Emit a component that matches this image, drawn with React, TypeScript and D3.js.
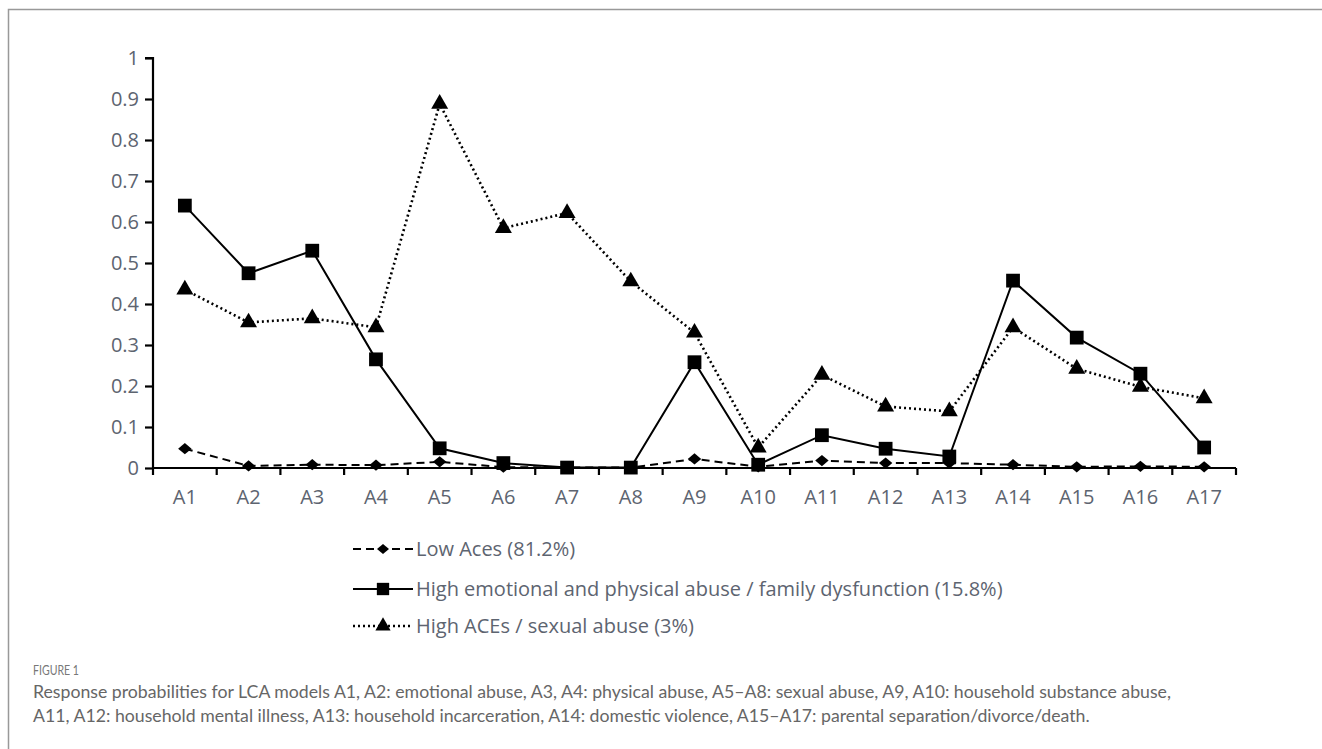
import React, { useEffect, useRef } from 'react';
import * as d3 from 'd3';

// Response probabilities per item
const items = ['A1', 'A2', 'A3', 'A4', 'A5', 'A6', 'A7', 'A8', 'A9', 'A10', 'A11', 'A12', 'A13', 'A14', 'A15', 'A16', 'A17'];
const lowAces = [0.047, 0.005, 0.008, 0.007, 0.015, 0.002, 0.001, 0.001, 0.022, 0.003, 0.018, 0.012, 0.012, 0.008, 0.003, 0.004, 0.003];
const highEmotional = [0.64, 0.475, 0.53, 0.265, 0.048, 0.012, 0.001, 0.001, 0.258, 0.008, 0.08, 0.047, 0.028, 0.457, 0.318, 0.23, 0.05];
const highSexual = [0.435, 0.355, 0.365, 0.343, 0.888, 0.585, 0.622, 0.455, 0.33, 0.05, 0.227, 0.15, 0.138, 0.343, 0.242, 0.198, 0.17];
const yTicks = [0, 0.1, 0.2, 0.3, 0.4, 0.5, 0.6, 0.7, 0.8, 0.9, 1];

const seriesNames = [
  'Low Aces (81.2%)',
  'High emotional and physical abuse / family dysfunction (15.8%)',
  'High ACEs / sexual abuse (3%)',
];

const captionLines = [
  'Response probabilities for LCA models A1, A2: emotional abuse, A3, A4: physical abuse, A5\u2013A8: sexual abuse, A9, A10: household substance abuse,',
  'A11, A12: household mental illness, A13: household incarceration, A14: domestic violence, A15\u2013A17: parental separation/divorce/death.',
];

const W = 1322;
const H = 749;
const labelFont = '"Open Sans", "Liberation Sans", sans-serif';
const labelColor = '#5d6470';

const Chart = () => {
  const ref = useRef<SVGSVGElement>(null);

  useEffect(() => {
    const svg = d3.select(ref.current);
    svg.selectAll('*').remove();

    // outer frame
    svg.append('rect')
      .attr('x', 8.5).attr('y', 9.5)
      .attr('width', W + 20).attr('height', H + 20)
      .attr('fill', 'none').attr('stroke', '#999').attr('stroke-width', 1.5);

    const x = d3.scaleBand().domain(items).range([153, 1236]);
    const y = d3.scaleLinear().domain([0, 1]).range([468, 58]);

    // y axis
    const gy = svg.append('g').attr('transform', 'translate(153,0)')
      .call(d3.axisLeft(y).tickValues(yTicks).tickFormat(d => String(d)).tickSize(8).tickPadding(6));
    gy.select('.domain').attr('d', 'M-8,58H0V468').attr('stroke', '#000').attr('stroke-width', 2.2);
    gy.selectAll('.tick line').attr('stroke', '#000').attr('stroke-width', 2.2);
    gy.selectAll('.tick text')
      .attr('fill', labelColor).style('font-family', labelFont).style('font-size', '20px');

    // x axis with ticks between the categories
    const edges = d3.range(items.length + 1).map(i => 153 + i * x.step());
    const gx = svg.append('g');
    gx.append('line').attr('x1', 153).attr('x2', 1236).attr('y1', 468).attr('y2', 468)
      .attr('stroke', '#000').attr('stroke-width', 2.2);
    gx.selectAll('line.tk').data(edges).enter().append('line').attr('class', 'tk')
      .attr('x1', d => d).attr('x2', d => d).attr('y1', 468).attr('y2', 475)
      .attr('stroke', '#000').attr('stroke-width', 2.2);
    gx.selectAll('text').data(items).enter().append('text')
      .attr('x', d => (x(d) as number) + x.bandwidth() / 2)
      .attr('y', 504)
      .attr('text-anchor', 'middle')
      .attr('fill', labelColor).style('font-family', labelFont).style('font-size', '20px')
      .text(d => d);

    const cx = (i: number) => (x(items[i]) as number) + x.bandwidth() / 2;
    // diamond = rotated, slightly flattened square
    const styles = [
      { data: lowAces, dash: '8,5', width: 2, symbol: d3.symbolSquare, size: 82, extra: ' scale(1.05,0.88) rotate(45)' },
      { data: highEmotional, dash: null, width: 2, symbol: d3.symbolSquare, size: 190, extra: '' },
      { data: highSexual, dash: '2,3', width: 2.6, symbol: d3.symbolTriangle, size: 125, extra: '' },
    ];

    const line = d3.line<number>().x((_, i) => cx(i)).y(d => y(d));

    styles.forEach(s => {
      svg.append('path').datum(s.data)
        .attr('d', line)
        .attr('fill', 'none').attr('stroke', '#000').attr('stroke-width', s.width)
        .attr('stroke-dasharray', s.dash);
      svg.selectAll(null).data(s.data).enter().append('path')
        .attr('transform', (d, i) => `translate(${cx(i)},${y(d)})${s.extra}`)
        .attr('d', d3.symbol().type(s.symbol).size(s.size)())
        .attr('fill', '#000');
    });

    // legend
    const legendY = [549, 589, 626];
    styles.forEach((s, i) => {
      const ly = legendY[i];
      svg.append('line').attr('x1', 353).attr('x2', 413).attr('y1', ly).attr('y2', ly)
        .attr('stroke', '#000').attr('stroke-width', s.width).attr('stroke-dasharray', s.dash);
      svg.append('path').attr('transform', `translate(383,${ly})${s.extra}`)
        .attr('d', d3.symbol().type(s.symbol).size(s.size * 0.8)()).attr('fill', '#000');
      svg.append('text').attr('x', 416).attr('y', ly + 7)
        .attr('fill', labelColor).style('font-family', labelFont).style('font-size', '20px')
        .text(seriesNames[i]);
    });

    // caption
    svg.append('text').attr('x', 33).attr('y', 675)
      .attr('fill', '#777').style('font-family', 'Lato, sans-serif').style('font-size', '13.5px')
      .attr('textLength', 46).attr('lengthAdjust', 'spacingAndGlyphs')
      .text('FIGURE 1');
    captionLines.forEach((t, i) => {
      svg.append('text').attr('x', 33).attr('y', 698 + i * 24)
        .attr('fill', '#666').style('font-family', 'Lato, sans-serif').style('font-size', '17.7px')
        .text(t);
    });
  }, []);

  return <svg ref={ref} width={W} height={H} style={{ position: 'absolute', left: 0, top: 0, background: '#fff' }} />;
};

export default function App() {
  return <Chart />;
}
